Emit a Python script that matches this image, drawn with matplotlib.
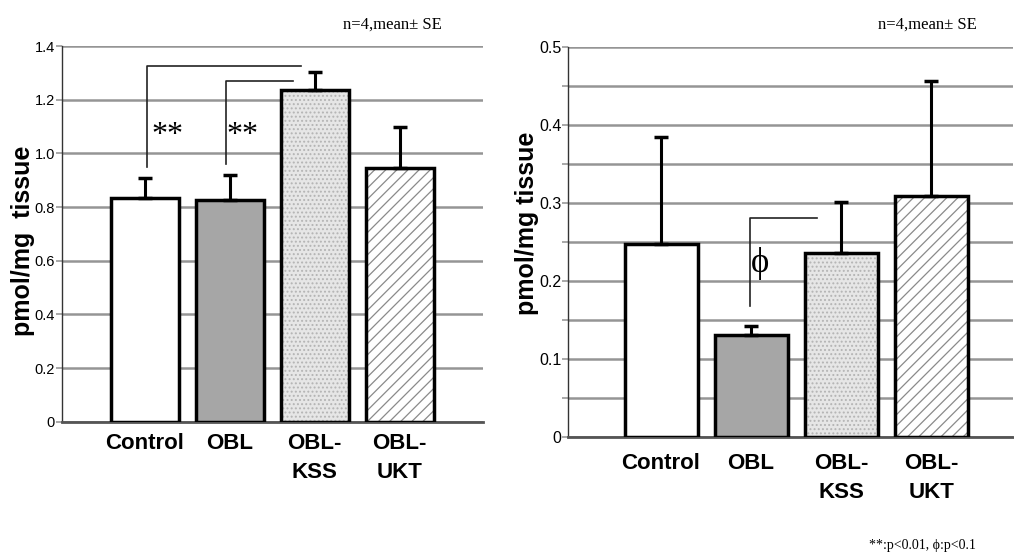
import numpy as np
import matplotlib.pyplot as plt
from matplotlib.ticker import FixedLocator

groups = ["Control", "OBL", "OBL-\nKSS", "OBL-\nUKT"]

# left panel
mean_left = [0.835, 0.825, 1.235, 0.945]
se_left = [0.075, 0.095, 0.07, 0.155]

# right panel
mean_right = [0.247, 0.130, 0.235, 0.308]
se_right = [0.137, 0.012, 0.066, 0.148]

face = ["white", "#a6a6a6", "#e6e6e6", "white"]
hatches = [None, None, "....", "///"]
hatch_col = [None, None, "#b4b4b4", "#8a8a8a"]

serif = ["Liberation Serif", "DejaVu Serif"]
sans = ["Liberation Sans", "DejaVu Sans"]

plt.rcParams["hatch.linewidth"] = 0.9

fig = plt.figure(figsize=(10.14, 5.57), dpi=100)
ax1 = fig.add_axes([0.0611, 0.2429, 0.4152, 0.6745])
ax2 = fig.add_axes([0.5605, 0.2160, 0.4385, 0.7002])


def draw_bars(ax, means, se, width):
    x = np.arange(len(means))
    for i in range(len(means)):
        if hatches[i]:
            plt.rcParams["hatch.color"] = hatch_col[i]
            ax.bar(x[i], means[i], width, color=face[i], hatch=hatches[i],
                   edgecolor=hatch_col[i], linewidth=0, zorder=2)
            ax.bar(x[i], means[i], width, fill=False, edgecolor="black",
                   linewidth=2.5, zorder=3)
        else:
            ax.bar(x[i], means[i], width, color=face[i], edgecolor="black",
                   linewidth=2.5, zorder=3)
    ax.errorbar(x, means, yerr=[np.zeros(len(means)), se], fmt="none",
                ecolor="black", elinewidth=2.2, capsize=5, capthick=2.5,
                zorder=4)
    return x


def style(ax, ymax, major, minor, pad, ysize):
    ax.set_ylim(0, ymax)
    for s in ["top", "right"]:
        ax.spines[s].set_visible(False)
    ax.spines["left"].set_color("#333333")
    ax.spines["left"].set_linewidth(1.0)
    ax.spines["bottom"].set_color("#555555")
    ax.spines["bottom"].set_linewidth(2.0)
    ax.yaxis.set_major_locator(FixedLocator(major))
    ax.set_yticklabels(["0"] + ["%.1f" % v for v in major[1:]],
                       family=sans, fontsize=ysize)
    if minor:
        ax.yaxis.set_minor_locator(FixedLocator(minor))
        ax.grid(True, which="minor", axis="y", color="#959595", lw=1.8,
                zorder=0)
        ax.tick_params(axis="y", which="minor", length=4, width=1.2,
                       color="#999999")
    ax.grid(True, which="major", axis="y", color="#959595", lw=1.8, zorder=0)
    ax.set_axisbelow(True)
    ax.tick_params(axis="y", which="major", length=4, width=1.2,
                   color="#999999", pad=1)
    ax.tick_params(axis="x", length=0, pad=pad)
    ax.set_xticks(np.arange(len(groups)))
    ax.set_xticklabels(groups, family=sans, fontweight="bold", fontsize=16,
                       linespacing=1.5, va="top")


x1 = draw_bars(ax1, mean_left, se_left, 0.8)
ax1.set_xlim(-0.976, 3.98)
style(ax1, 1.4, [0, 0.2, 0.4, 0.6, 0.8, 1.0, 1.2, 1.4], None, 8, 10.5)

# significance brackets, left
ax1.plot([x1[0] + 0.02, x1[0] + 0.02, 1.84], [0.95, 1.325, 1.325],
         color="#222222", lw=1.2, zorder=5)
ax1.plot([x1[1] - 0.05, x1[1] - 0.05, 1.74], [0.96, 1.27, 1.27],
         color="#222222", lw=1.2, zorder=5)
ax1.text(0.26, 1.065, "**", family=serif, fontsize=23, ha="center",
         va="center")
ax1.text(1.15, 1.065, "**", family=serif, fontsize=23, ha="center",
         va="center")

x2 = draw_bars(ax2, mean_right, se_right, 0.81)
ax2.set_xlim(-1.03, 3.91)
style(ax2, 0.5, [0, 0.1, 0.2, 0.3, 0.4, 0.5],
      [0.05, 0.15, 0.25, 0.35, 0.45], 12, 11.5)

# bracket, right
ax2.plot([x2[1] - 0.01, x2[1] - 0.01, 1.73], [0.167, 0.281, 0.281],
         color="#222222", lw=1.2, zorder=5)
ax2.text(1.10, 0.222, "ϕ", family=serif, fontsize=25, ha="center",
         va="center")

fig.text(0.023, 1 - 241 / 557, "pmol/mg  tissue", rotation=90, ha="center",
         va="center", family=sans, fontweight="bold", fontsize=18)
fig.text(527 / 1014, 1 - 223 / 557, "pmol/mg tissue", rotation=90,
         ha="center", va="center", family=sans, fontweight="bold",
         fontsize=18)

fig.text(0.3866, 0.955, "n=4,mean± SE", ha="center", va="center",
         family=serif, fontsize=12)
fig.text(0.915, 0.955, "n=4,mean± SE", ha="center", va="center",
         family=serif, fontsize=12)
fig.text(0.910, 0.0215, "**:p<0.01, ϕ:p<0.1", ha="center", va="center",
         family=serif, fontsize=10)

fig.savefig("out.png", dpi=100)
